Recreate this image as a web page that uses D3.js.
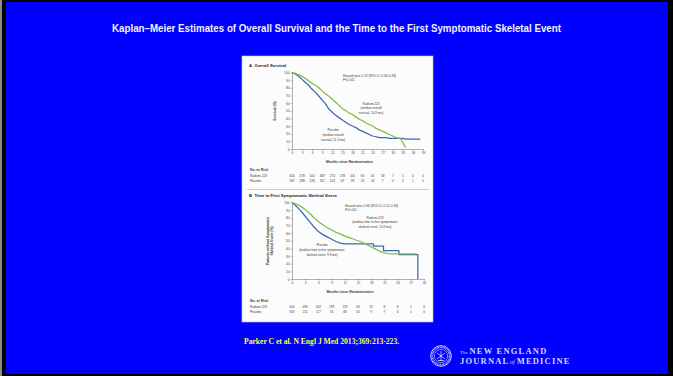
<!DOCTYPE html>
<html lang="en">
<head>
  <meta charset="UTF-8">
  <title>Kaplan–Meier Estimates of Overall Survival and the Time to the First Symptomatic Skeletal Event</title>
  <style>
    body {
      margin: 0;
      background-color: #000;
      overflow: hidden;
    }

    .fig-text {
      font-family: "Liberation Sans", Arial, sans-serif;
      fill: #3a3a3a;
    }

    .axis path,
    .axis line {
      stroke: #555;
      stroke-width: 0.45px;
    }

    .axis text {
      font-family: "Liberation Sans", Arial, sans-serif;
      font-size: 3.2px;
      fill: #444;
    }

    .km-line {
      fill: none;
      stroke-width: 1.25px;
      stroke-linejoin: round;
    }
  </style>
</head>
<body>
  <script src="https://d3js.org/d3.v7.min.js"></script>
  <script>
    const width = 673;
    const height = 376;

    // tick labels
    const osTicks = [0, 3, 6, 9, 12, 15, 18, 21, 24, 27, 30, 33, 36, 39];
    const sseTicks = [0, 3, 6, 9, 12, 15, 18, 21, 24, 27, 30];
    const pctTicks = [0, 10, 20, 30, 40, 50, 60, 70, 80, 90, 100];

    // numbers at risk
    const osRiskRadium = [614, 578, 504, 369, 274, 178, 105, 60, 41, 18, 7, 1, 0, 0];
    const osRiskPlacebo = [307, 288, 228, 157, 103, 67, 39, 24, 14, 7, 4, 2, 1, 0];
    const sseRiskRadium = [614, 496, 342, 199, 129, 63, 31, 8, 8, 1, 0];
    const sseRiskPlacebo = [307, 211, 117, 56, 36, 20, 9, 7, 4, 1, 0];

    // [month, percent]
    const osRadium = [[0, 100], [1, 99], [2, 97], [3, 95], [4, 92], [5, 89], [6, 86], [7, 83], [8, 80],
      [9, 76], [10, 72], [11, 69], [12, 65], [13, 61], [14, 57], [15, 53], [16, 50], [17, 47], [18, 45],
      [19, 42], [20, 39], [21, 37], [22, 34], [23, 32], [24, 30], [25, 27], [26, 25], [27, 23], [28, 21],
      [29, 19], [30, 17], [31, 15], [32, 14], [32.6, 12], [33, 8], [33.4, 5], [33.8, 2]];
    const osPlacebo = [[0, 100], [1, 98], [2, 95], [3, 91], [4, 87], [5, 83], [6, 78], [7, 74], [8, 69],
      [9, 64], [10, 59], [11, 52], [12, 48], [13, 44], [14, 41], [15, 38], [16, 35], [17, 32], [18, 30],
      [19, 28], [20, 25], [21, 23], [22, 21], [23, 19], [24, 17], [25, 16], [26, 15], [28, 15], [29, 14],
      [33, 14], [34, 13], [38.2, 13]];
    const sseRadium = [[0, 100], [1, 98], [2, 95], [3, 91], [4, 86], [5, 80], [6, 75], [7, 71], [8, 67],
      [9, 64], [10, 61], [11, 59], [12, 56], [13, 54], [14, 52], [15, 50], [16, 48], [17, 45], [18, 42],
      [19, 39], [20, 36], [21, 34], [22, 33], [28.3, 33]];
    const ssePlacebo = [[0, 100], [1, 95], [2, 89], [3, 82], [4, 75], [5, 68], [6, 62], [7, 58], [8, 55],
      [9, 52], [10, 49], [11, 47], [12, 46], [18.5, 46], [18.5, 43], [20.8, 43], [20.8, 37], [24.3, 37],
      [24.3, 32], [28.6, 32], [28.6, 0]];

    const radiumColor = "#7dbf46";
    const placeboColor = "#3b68b2";

    const svg = d3.select("body").append("svg")
      .attr("width", width)
      .attr("height", height);

    // slide frame
    svg.append("rect").attr("width", width).attr("height", height).attr("fill", "#000");
    svg.append("rect").attr("width", 2).attr("height", height).attr("fill", "#8a8a8a");
    svg.append("rect")
      .attr("x", 6).attr("y", 2)
      .attr("width", 662).attr("height", 372)
      .attr("fill", "#0000ff");

    svg.append("text")
      .attr("x", 336.5)
      .attr("y", 31.5)
      .attr("text-anchor", "middle")
      .attr("textLength", 449)
      .attr("lengthAdjust", "spacingAndGlyphs")
      .style("font-family", "'Liberation Sans', Arial, sans-serif")
      .style("font-weight", "bold")
      .style("font-size", "10px")
      .style("fill", "#f2f2ff")
      .text("Kaplan–Meier Estimates of Overall Survival and the Time to the First Symptomatic Skeletal Event");

    // figure panel
    svg.append("rect")
      .attr("x", 242).attr("y", 56)
      .attr("width", 191).attr("height", 266)
      .attr("fill", "#fcfcfc")
      .attr("stroke", "#c4c4c4")
      .attr("stroke-width", 0.6);

    svg.append("line")
      .attr("x1", 247).attr("x2", 429)
      .attr("y1", 189.5).attr("y2", 189.5)
      .attr("stroke", "#9a9a9a")
      .attr("stroke-width", 0.5);

    function drawPanel(cfg) {
      const x = d3.scaleLinear().domain([0, cfg.ticks[cfg.ticks.length - 1]]).range([292, cfg.xEnd]);
      const y = d3.scaleLinear().domain([0, 100]).range([cfg.yBottom, cfg.yBottom - 76.5]);
      const g = svg.append("g");

      g.append("text").attr("class", "fig-text")
        .attr("x", 249).attr("y", cfg.headY)
        .style("font-size", "4.2px").style("font-weight", "bold").style("fill", "#222")
        .text(cfg.letter)
        .append("tspan").attr("dx", 2.5).text(cfg.heading);

      g.append("g").attr("class", "axis")
        .attr("transform", `translate(292,0)`)
        .call(d3.axisLeft(y).tickValues(pctTicks).tickSize(1.4).tickSizeOuter(0).tickPadding(1))
        .call(a => a.selectAll("text").attr("font-size", null).attr("font-family", null));

      g.append("g").attr("class", "axis")
        .attr("transform", `translate(0,${cfg.yBottom})`)
        .call(d3.axisBottom(x).tickValues(cfg.ticks).tickSize(1.4).tickSizeOuter(0).tickPadding(1.5))
        .call(a => a.selectAll("text").attr("font-size", null).attr("font-family", null));

      g.append("text").attr("class", "fig-text")
        .attr("x", (292 + cfg.xEnd) / 2 - 8).attr("y", cfg.yBottom + 14.2)
        .attr("text-anchor", "middle")
        .style("font-size", "3.4px").style("font-weight", "bold")
        .text("Months since Randomization");

      cfg.yTitle.forEach((t, i) => {
        g.append("text").attr("class", "fig-text")
          .attr("transform", `translate(${cfg.yTitleX + i * 4},${cfg.yBottom - 38}) rotate(-90)`)
          .attr("text-anchor", "middle")
          .style("font-size", "3.4px").style("font-weight", "bold")
          .text(t);
      });

      const line = d3.line().x(d => x(d[0])).y(d => y(d[1]));
      g.append("path").datum(cfg.placebo).attr("class", "km-line")
        .attr("stroke", placeboColor).attr("d", line);
      g.append("path").datum(cfg.radium).attr("class", "km-line")
        .attr("stroke", radiumColor).attr("d", line);

      cfg.notes.forEach(n => {
        n.lines.forEach((t, i) => {
          g.append("text").attr("class", "fig-text")
            .attr("x", n.x).attr("y", n.y + i * 4.8)
            .attr("text-anchor", n.anchor)
            .style("font-size", "3.1px")
            .text(t);
        });
      });

      // numbers at risk
      g.append("text").attr("class", "fig-text")
        .attr("x", 250).attr("y", cfg.riskY)
        .style("font-size", "3.5px").style("font-weight", "bold")
        .text("No. at Risk");
      [["Radium-223", cfg.riskRadium], ["Placebo", cfg.riskPlacebo]].forEach(([name, vals], r) => {
        const yy = cfg.riskY + 5.5 + r * 5;
        g.append("text").attr("class", "fig-text")
          .attr("x", 250).attr("y", yy)
          .style("font-size", "3.1px")
          .text(name);
        g.selectAll(null).data(vals).enter().append("text")
          .attr("class", "fig-text")
          .attr("x", (d, i) => x(cfg.ticks[i]))
          .attr("y", yy)
          .attr("text-anchor", "middle")
          .style("font-size", "3.1px")
          .text(d => d);
      });
    }

    drawPanel({
      letter: "A", heading: "Overall Survival", headY: 66.5,
      ticks: osTicks, xEnd: 423, yBottom: 149,
      yTitle: ["Survival (%)"], yTitleX: 276,
      radium: osRadium, placebo: osPlacebo,
      riskRadium: osRiskRadium, riskPlacebo: osRiskPlacebo, riskY: 171.2,
      notes: [
        { x: 343, y: 76.5, anchor: "start", lines: ["Hazard ratio, 0.70 (95% CI, 0.58–0.83)", "P<0.001"] },
        { x: 371, y: 104.5, anchor: "middle", lines: ["Radium-223", "(median overall", "survival, 14.9 mo)"] },
        { x: 333, y: 131, anchor: "middle", lines: ["Placebo", "(median overall", "survival, 11.3 mo)"] }
      ]
    });

    drawPanel({
      letter: "B", heading: "Time to First Symptomatic Skeletal Event", headY: 197,
      ticks: sseTicks, xEnd: 424, yBottom: 279,
      yTitle: ["Patients without Symptomatic", "Skeletal Event (%)"], yTitleX: 269,
      radium: sseRadium, placebo: ssePlacebo,
      riskRadium: sseRiskRadium, riskPlacebo: sseRiskPlacebo, riskY: 302.2,
      notes: [
        { x: 345, y: 206.5, anchor: "start", lines: ["Hazard ratio, 0.66 (95% CI, 0.52–0.83)", "P<0.001"] },
        { x: 375, y: 218.5, anchor: "middle", lines: ["Radium-223", "(median time to first symptomatic", "skeletal event, 15.6 mo)"] },
        { x: 322, y: 246, anchor: "middle", lines: ["Placebo", "(median time to first symptomatic", "skeletal event, 9.8 mo)"] }
      ]
    });

    // citation
    svg.append("text")
      .attr("x", 244).attr("y", 344)
      .style("font-family", "'Liberation Serif', 'Times New Roman', serif")
      .style("font-weight", "bold")
      .style("font-size", "7.6px")
      .style("fill", "#ffff4a")
      .text("Parker C et al. N Engl J Med 2013;369:213-223.");

    // NEJM seal and wordmark
    const seal = svg.append("g").attr("transform", "translate(441,356)")
      .attr("fill", "none").attr("stroke", "#d4d4ff");
    seal.append("circle").attr("r", 10.3).attr("stroke-width", 1);
    seal.append("circle").attr("r", 8.6).attr("stroke-width", 1.6).attr("stroke-dasharray", "0.8 0.7");
    seal.append("circle").attr("r", 6.6).attr("stroke-width", 0.6);
    seal.append("path").attr("d", "M-4,-3L4,3M-4,3L4,-3M0,-5V5M-3,4.5H3").attr("stroke-width", 0.8);

    const mark = svg.append("g")
      .style("font-family", "'Liberation Serif', 'Times New Roman', serif")
      .style("fill", "#d4d4ff");
    const markTop = mark.append("text").attr("x", 460).attr("y", 353.5);
    markTop.append("tspan").style("font-size", "5px").style("font-style", "italic").text("The");
    markTop.append("tspan").attr("dx", 2).style("font-size", "8.5px").style("font-weight", "bold")
      .style("letter-spacing", "1.2px").text("NEW ENGLAND");
    const markBottom = mark.append("text").attr("x", 460).attr("y", 364);
    markBottom.append("tspan").style("font-size", "8.5px").style("font-weight", "bold")
      .style("letter-spacing", "1.2px").text("JOURNAL");
    markBottom.append("tspan").attr("dx", 0.5).style("font-size", "6px").style("font-style", "italic").text("of");
    markBottom.append("tspan").attr("dx", 2).style("font-size", "8.5px").style("font-weight", "bold")
      .style("letter-spacing", "1.2px").text("MEDICINE");
  </script>
</body>
</html>
